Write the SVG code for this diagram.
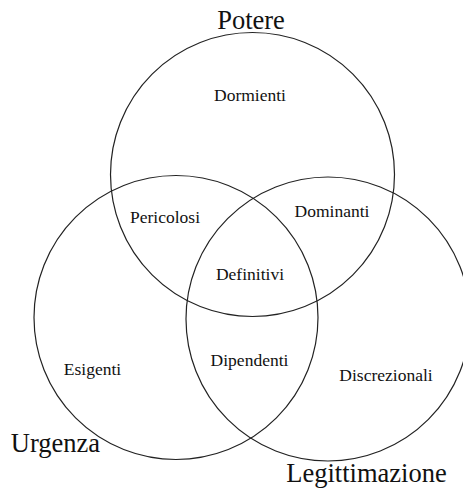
<svg xmlns="http://www.w3.org/2000/svg" width="463" height="488" viewBox="0 0 463 488">
<style>
.c{fill:none;stroke:#222;stroke-width:1.2}
.t{font-family:"Liberation Serif","Times New Roman",serif;fill:#111;text-anchor:middle}
.s{font-size:17.5px}
.b{font-size:26.5px}
</style>
<rect width="463" height="488" fill="#fff"/>
<g id="potere"><circle class="c" cx="252.5" cy="174.5" r="142"/><text class="t b" x="251" y="28.5">Potere</text></g>
<g id="urgenza"><circle class="c" cx="176" cy="317.5" r="142"/><text class="t b" x="55.5" y="451.5">Urgenza</text></g>
<g id="legittimazione"><circle class="c" cx="328" cy="319" r="142"/><text class="t b" x="366.5" y="481.5">Legittimazione</text></g>
<g id="dormienti"><text class="t s" x="250" y="101">Dormienti</text></g>
<g id="pericolosi"><text class="t s" x="165" y="223">Pericolosi</text></g>
<g id="dominanti"><text class="t s" x="332" y="217">Dominanti</text></g>
<g id="definitivi"><text class="t s" x="250" y="280">Definitivi</text></g>
<g id="dipendenti"><text class="t s" x="249.5" y="365.5">Dipendenti</text></g>
<g id="esigenti"><text class="t s" x="92.5" y="375">Esigenti</text></g>
<g id="discrezionali"><text class="t s" x="386" y="381">Discrezionali</text></g>
<g id="connectors"></g>
</svg>
